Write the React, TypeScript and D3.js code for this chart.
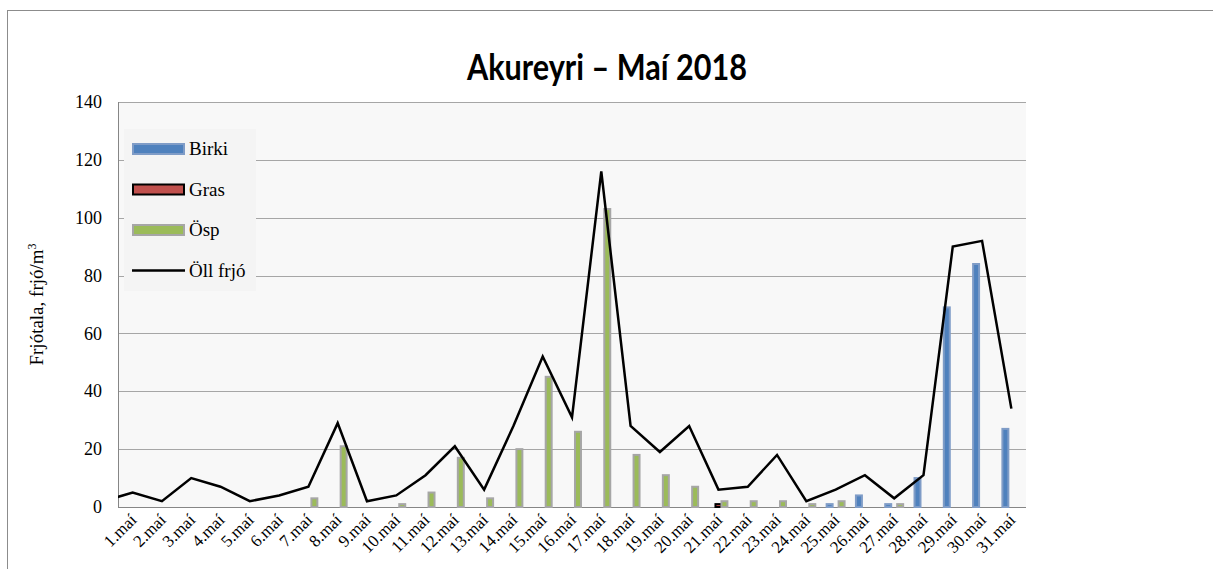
import React, { useEffect, useRef } from 'react';
import * as d3 from 'd3';

const days = [
    '1.maí', '2.maí', '3.maí', '4.maí', '5.maí', '6.maí', '7.maí', '8.maí', '9.maí', '10.maí',
    '11.maí', '12.maí', '13.maí', '14.maí', '15.maí', '16.maí', '17.maí', '18.maí', '19.maí', '20.maí',
    '21.maí', '22.maí', '23.maí', '24.maí', '25.maí', '26.maí', '27.maí', '28.maí', '29.maí', '30.maí', '31.maí'
];

const birki = [0, 0, 0, 0, 0, 0, 0, 0, 0, 0, 0, 0, 0, 0, 0, 0, 0, 0, 0, 0, 0, 0, 0, 0, 1, 4, 1, 10, 69, 84, 27];
const gras = [0, 0, 0, 0, 0, 0, 0, 0, 0, 0, 0, 0, 0, 0, 0, 0, 0, 0, 0, 0, 1, 0, 0, 0, 0, 0, 0, 0, 0, 0, 0];
const osp = [0, 0, 0, 0, 0, 0, 3, 21, 0, 1, 5, 17, 3, 20, 45, 26, 103, 18, 11, 7, 2, 2, 2, 1, 2, 0, 1, 0, 0, 0, 0];
const oll = [5, 2, 10, 7, 2, 4, 7, 29, 2, 4, 11, 21, 6, 28, 52, 31, 116, 28, 19, 28, 6, 7, 18, 2, 6, 11, 3, 11, 90, 92, 34];
// 30.apríl, the line runs in from the left edge of the plot
const ollPrev = 2;

const yTicks = [0, 20, 40, 60, 80, 100, 120, 140];

const barSeries = [
    { name: 'Birki', values: birki, fill: '#4f81bd', stroke: '#7f9cc7' },
    { name: 'Gras', values: gras, fill: '#c0504d', stroke: '#000000' },
    { name: 'Ösp', values: osp, fill: '#9bbb59', stroke: '#a6a6a6' }
];

const serif = '"Liberation Serif", "Times New Roman", serif';

const Chart = ({ width, height }) => {
    const svgRef = useRef(null);

    useEffect(() => {
        const svg = d3.select(svgRef.current);

        // Clear existing content
        svg.selectAll('*').remove();

        const margin = { top: 102, right: width - 1026, bottom: height - 507, left: 118 };
        const innerWidth = width - margin.left - margin.right;
        const innerHeight = height - margin.top - margin.bottom;

        // chart area border
        svg.append('rect')
            .attr('x', 7.5)
            .attr('y', 10.5)
            .attr('width', width + 20)
            .attr('height', height + 20)
            .attr('fill', '#ffffff')
            .attr('stroke', '#8c8c8c')
            .attr('stroke-width', 1);

        // title, squeezed a bit since Calibri isn't around
        svg.append('text')
            .attr('x', 467)
            .attr('y', 80)
            .attr('textLength', 280)
            .attr('lengthAdjust', 'spacingAndGlyphs')
            .attr('font-family', 'Lato, "Open Sans", sans-serif')
            .attr('font-weight', 'bold')
            .attr('font-size', '37px')
            .attr('fill', '#000')
            .text('Akureyri – Maí 2018');

        const xScale = d3.scaleBand()
            .domain(days)
            .range([0, innerWidth])
            .padding(0);

        const subScale = d3.scaleBand()
            .domain(barSeries.map(s => s.name))
            .range([0, xScale.bandwidth()])
            .paddingInner(0)
            .paddingOuter(0.95);

        const yScale = d3.scaleLinear()
            .domain([0, 140])
            .range([innerHeight, 0]);

        const g = svg.append('g')
            .attr('transform', `translate(${margin.left},${margin.top})`);

        g.append('rect')
            .attr('width', innerWidth)
            .attr('height', innerHeight)
            .attr('fill', '#f8f8f8');

        svg.append('clipPath')
            .attr('id', 'plot-clip')
            .append('rect')
            .attr('width', innerWidth)
            .attr('height', innerHeight + 2);

        // gridlines
        g.selectAll('.grid')
            .data(yTicks.filter(t => t > 0))
            .enter()
            .append('line')
            .attr('class', 'grid')
            .attr('x1', 0)
            .attr('x2', innerWidth)
            .attr('y1', d => Math.round(yScale(d)) + 0.5)
            .attr('y2', d => Math.round(yScale(d)) + 0.5)
            .attr('stroke', '#a6a6a6')
            .attr('stroke-width', 1);

        // axes lines
        g.append('line')
            .attr('x1', 0.5).attr('x2', 0.5)
            .attr('y1', 0).attr('y2', innerHeight)
            .attr('stroke', '#868686');
        g.append('line')
            .attr('x1', 0).attr('x2', innerWidth)
            .attr('y1', innerHeight + 0.5).attr('y2', innerHeight + 0.5)
            .attr('stroke', '#868686');

        // y tick labels
        g.selectAll('.ytick')
            .data(yTicks)
            .enter()
            .append('text')
            .attr('class', 'ytick')
            .attr('x', -16)
            .attr('y', d => yScale(d))
            .attr('dy', '0.34em')
            .attr('text-anchor', 'end')
            .attr('font-family', serif)
            .attr('font-size', '18px')
            .attr('fill', '#000')
            .text(d => d);

        // x tick labels, rotated
        g.selectAll('.xtick')
            .data(days)
            .enter()
            .append('text')
            .attr('class', 'xtick')
            .attr('transform', d => `translate(${xScale(d) + xScale.bandwidth() / 2 + 5},${innerHeight + 14}) rotate(-45)`)
            .attr('text-anchor', 'end')
            .attr('font-family', serif)
            .attr('font-size', '17px')
            .attr('fill', '#000')
            .text(d => d);

        // y axis title
        const yTitle = svg.append('text')
            .attr('transform', `translate(43,${margin.top + innerHeight / 2}) rotate(-90)`)
            .attr('text-anchor', 'middle')
            .attr('font-family', serif)
            .attr('font-size', '19px')
            .attr('fill', '#000');
        yTitle.append('tspan').text('Frjótala, frjó/m');
        yTitle.append('tspan')
            .attr('baseline-shift', 'super')
            .attr('font-size', '12px')
            .text('3');

        // bars
        barSeries.forEach(s => {
            g.selectAll(`.bar-${s.name}`)
                .data(s.values.map((v, i) => ({ day: days[i], value: v })).filter(d => d.value > 0))
                .enter()
                .append('rect')
                .attr('x', d => xScale(d.day) + subScale(s.name))
                .attr('y', d => yScale(d.value))
                .attr('width', subScale.bandwidth())
                .attr('height', d => innerHeight - yScale(d.value))
                .attr('fill', s.fill)
                .attr('stroke', s.stroke)
                .attr('stroke-width', 2);
        });

        // total line
        const linePoints = [{ x: xScale(days[0]) + xScale.bandwidth() / 2 - xScale.step(), value: ollPrev }]
            .concat(oll.map((v, i) => ({ x: xScale(days[i]) + xScale.bandwidth() / 2, value: v })));

        const line = d3.line()
            .x(d => d.x)
            .y(d => yScale(d.value));

        g.append('path')
            .datum(linePoints)
            .attr('clip-path', 'url(#plot-clip)')
            .attr('fill', 'none')
            .attr('stroke', '#000')
            .attr('stroke-width', 2.5)
            .attr('stroke-linejoin', 'miter')
            .attr('d', line);

        // legend
        const legend = svg.append('g')
            .attr('transform', 'translate(124,129)');
        legend.append('rect')
            .attr('width', 132)
            .attr('height', 162)
            .attr('fill', '#f4f4f4');

        const legendItems = barSeries.map(s => ({ ...s, kind: 'bar' }))
            .concat([{ name: 'Öll frjó', kind: 'line' }]);

        legendItems.forEach((item, i) => {
            const cy = 20 + i * 40.5;
            if (item.kind === 'bar') {
                legend.append('rect')
                    .attr('x', 9)
                    .attr('y', cy - 5)
                    .attr('width', 51)
                    .attr('height', 10)
                    .attr('fill', item.fill)
                    .attr('stroke', item.stroke)
                    .attr('stroke-width', 2);
            } else {
                legend.append('line')
                    .attr('x1', 8)
                    .attr('x2', 61)
                    .attr('y1', cy)
                    .attr('y2', cy)
                    .attr('stroke', '#000')
                    .attr('stroke-width', 2.5);
            }
            legend.append('text')
                .attr('x', 65)
                .attr('y', cy)
                .attr('dy', '0.33em')
                .attr('font-family', serif)
                .attr('font-size', '19px')
                .attr('fill', '#000')
                .text(item.name);
        });

        svg.attr('width', width);
        svg.attr('height', height);
    }, [width, height]);

    return <svg ref={svgRef} width={width} height={height} style={{ position: 'absolute', left: 0, top: 0 }} />;
};

export default function App() {
    return <Chart width={1213} height={569} />;
}
